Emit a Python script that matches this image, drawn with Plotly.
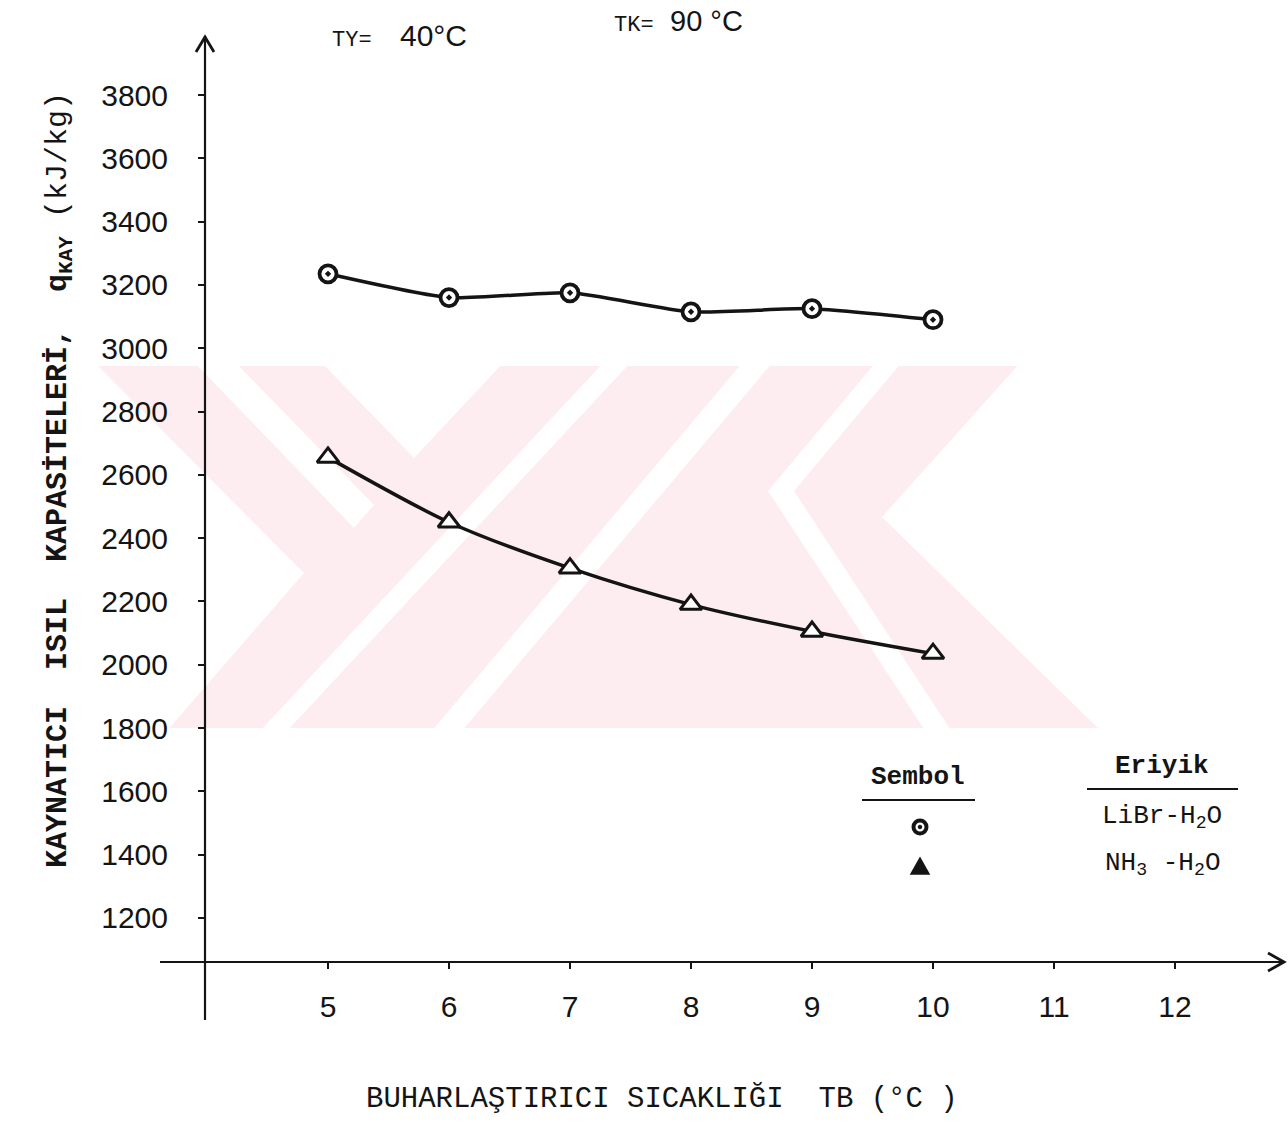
import plotly.graph_objects as go

# ---------------- data ----------------
tb_values = [5, 6, 7, 8, 9, 10]                     # Buharlaştırıcı sıcaklığı TB (°C)
q_libr = [3235, 3160, 3175, 3115, 3125, 3090]        # LiBr-H2O  (kJ/kg)
q_nh3 = [2655, 2450, 2305, 2190, 2105, 2035]         # NH3-H2O   (kJ/kg)
x_tick_vals = [5, 6, 7, 8, 9, 10, 11, 12]
y_tick_vals = [1200, 1400, 1600, 1800, 2000, 2200, 2400, 2600, 2800, 3000, 3200, 3400, 3600, 3800]

# ---------------- layout geometry (pixels) ----------------
FW, FH = 1288, 1134
L, R, T, B = 205, 8, 40, 172
PW, PH = FW - L - R, FH - T - B

# axis scales anchored to pixel positions
X5_PX, X_UNIT = 328, 121.0
Y3800_PX, Y_UNIT = 95, 0.3165
x_lo = 5 - (X5_PX - L) / X_UNIT
x_hi = x_lo + PW / X_UNIT
y_hi = 3800 + (Y3800_PX - T) / Y_UNIT
y_lo = y_hi - PH / Y_UNIT


def pp(X, Y):
    """pixel -> paper coordinates"""
    return (X - L) / PW, 1 - (Y - T) / PH


INK = "#141414"
MONO = "Liberation Mono, DejaVu Sans Mono, monospace"
SANS = "Liberation Sans, Arial, sans-serif"

fig = go.Figure()

fig.add_trace(go.Scatter(
    x=tb_values, y=q_libr, mode="lines+markers", name="LiBr-H2O",
    line=dict(color=INK, width=3.5, shape="spline", smoothing=0.6),
    marker=dict(symbol="circle-dot", size=17, color="white",
                line=dict(color=INK, width=3.8)),
    showlegend=False,
))
fig.add_trace(go.Scatter(
    x=tb_values, y=q_nh3, mode="lines+markers", name="NH3-H2O",
    line=dict(color=INK, width=3.5, shape="spline", smoothing=0.8),
    marker=dict(symbol="triangle-up", size=19, color="white",
                line=dict(color=INK, width=3)),
    showlegend=False,
))

shapes = []


def path_of(points, close=True):
    pts = [pp(X, Y) for X, Y in points]
    s = "M " + " L ".join(f"{a:.5f},{b:.5f}" for a, b in pts)
    return s + (" Z" if close else "")


# ---- watermark (very light pink block with white cut-outs) ----
WM_PINK = "#fdedf0"
wm_block = [(94, 366), (1100, 366), (1100, 728), (94, 728)]
wm_cuts = [
    [(86, 362), (94, 362), (304, 573), (166, 732), (86, 732)],
    [(194, 362), (235, 362), (374, 505), (354, 528)],
    [(321, 362), (504, 362), (414, 458)],
    [(604, 362), (631, 362), (286, 732), (259, 732)],
    [(743, 362), (773, 362), (461, 732), (431, 732)],
    [(876, 362), (902, 362), (794, 491), (952, 732), (926, 732), (768, 491)],
    [(1021, 362), (1106, 362), (1106, 732), (1102, 732), (882, 517)],
]
shapes.append(dict(type="path", path=path_of(wm_block), xref="paper", yref="paper",
                   fillcolor=WM_PINK, line=dict(width=0), layer="below"))
for poly in wm_cuts:
    shapes.append(dict(type="path", path=path_of(poly), xref="paper", yref="paper",
                       fillcolor="white", line=dict(width=0), layer="below"))


def seg(X0, Y0, X1, Y1, w=2.2):
    a0, b0 = pp(X0, Y0)
    a1, b1 = pp(X1, Y1)
    return dict(type="line", xref="paper", yref="paper", x0=a0, y0=b0, x1=a1, y1=b1,
                line=dict(color=INK, width=w))


def poly_path(points, fill=None, w=2.5):
    return dict(type="path", path=path_of(points, close=bool(fill)), xref="paper", yref="paper",
                fillcolor=fill if fill else "rgba(0,0,0,0)",
                line=dict(color=INK, width=w))


# axes lines (crossing) with open arrow heads
shapes.append(seg(L, 36, L, 1020))
shapes.append(seg(160, 962, 1283, 962))
shapes.append(poly_path([(L - 9, 52), (L, 37), (L + 9, 52)], w=2.8))
shapes.append(poly_path([(1268, 953), (1284, 962), (1268, 971)], w=2.8))

# legend rules
shapes.append(seg(862, 800, 975, 800, 1.8))
shapes.append(seg(1087, 789, 1238, 789, 1.8))

# legend symbols
cx, cy = pp(920, 827)
rx, ry = 6.5 / PW, 6.5 / PH
shapes.append(dict(type="circle", xref="paper", yref="paper",
                   x0=cx - rx, x1=cx + rx, y0=cy - ry, y1=cy + ry,
                   line=dict(color=INK, width=4), fillcolor="white"))
shapes.append(dict(type="circle", xref="paper", yref="paper",
                   x0=cx - 1.8 / PW, x1=cx + 1.8 / PW, y0=cy - 1.8 / PH, y1=cy + 1.8 / PH,
                   line=dict(color=INK, width=1), fillcolor=INK))
shapes.append(poly_path([(911, 874), (929, 874), (920, 858)], fill=INK, w=1.5))

annotations = []


def txt(X, Y, text, size, family=MONO, angle=0, xanchor="center"):
    a, b = pp(X, Y)
    annotations.append(dict(x=a, y=b, xref="paper", yref="paper", text=text,
                            showarrow=False, textangle=angle, xanchor=xanchor,
                            yanchor="middle",
                            font=dict(family=family, size=size, color=INK)))


# header conditions
txt(352, 40, "TY=", 22)
txt(433, 35, "40°C", 30, SANS)
txt(634, 25, "TK=", 22)
txt(706, 21, "90 °C", 29, SANS)

# axis titles
txt(60, 480, "<b>KAYNATICI  ISIL  KAPASİTELERİ,  q<sub>KAY</sub></b> (kJ/kg)", 30, angle=-90)
txt(662, 1099, "BUHARLAŞTIRICI SICAKLIĞI  TB (°C )", 29)

# legend table
txt(918, 777, "<b>Sembol</b>", 26)
txt(1162, 766, "<b>Eriyik</b>", 26)
txt(1162, 817, "LiBr-H<sub>2</sub>O", 26)
txt(1162, 864, "NH<sub>3</sub> -H<sub>2</sub>O", 26)

fig.update_layout(
    width=FW, height=FH,
    margin=dict(l=L, r=R, t=T, b=B, pad=0),
    paper_bgcolor="white",
    plot_bgcolor="rgba(0,0,0,0)",
    shapes=shapes,
    annotations=annotations,
    xaxis=dict(range=[x_lo, x_hi], tickvals=x_tick_vals, showgrid=False, zeroline=False,
               showline=False, ticks="outside", ticklen=6, tickwidth=1.5, tickcolor=INK,
               ticklabelstandoff=12,
               tickfont=dict(family=SANS, size=30, color=INK)),
    yaxis=dict(range=[y_lo, y_hi], tickvals=y_tick_vals, showgrid=False, zeroline=False,
               showline=False, ticks="outside", ticklen=6, tickwidth=2, tickcolor=INK,
               ticklabelstandoff=24,
               tickfont=dict(family=SANS, size=30, color=INK)),
)

fig.write_html("out.html")
